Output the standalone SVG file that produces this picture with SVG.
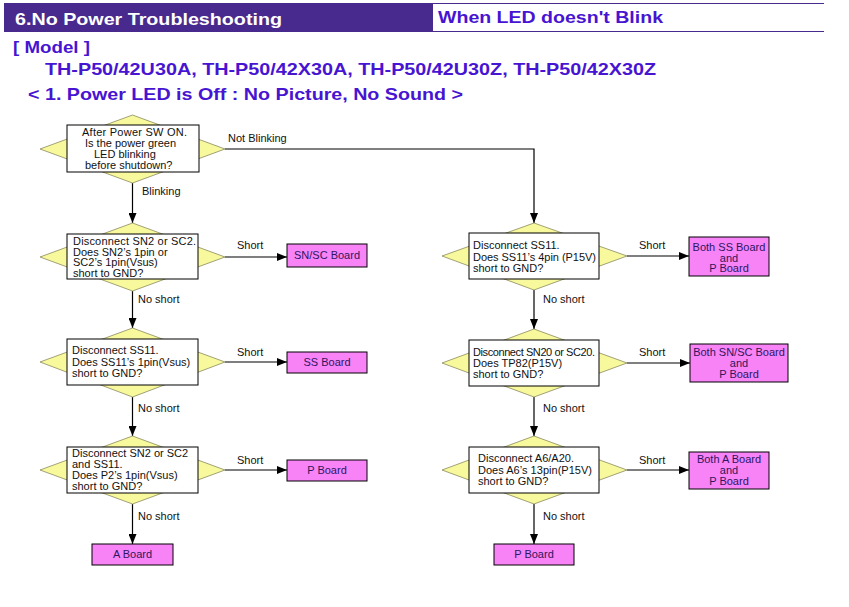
<svg xmlns="http://www.w3.org/2000/svg" width="849" height="607" viewBox="0 0 849 607">
<style>
.hd{font-family:"Liberation Sans",Arial,sans-serif;font-weight:bold;font-size:17px}
.bl{fill:#4714d2}
.t{font-family:"Liberation Sans",Arial,sans-serif;font-size:11px;fill:#111}
.bt{font-family:"Liberation Sans",Arial,sans-serif;font-size:11px;fill:#2e1660;text-anchor:middle}
.dia{fill:#f8f89c;stroke:#8a8a60;stroke-width:0.8}
.q{fill:#fff;stroke:#000;stroke-width:1}
.res{fill:#f783f7;stroke:#000;stroke-width:1}
.ln{fill:none;stroke:#000;stroke-width:1.2}
</style>
<defs>
<marker id="ah" viewBox="0 0 10 8" refX="10" refY="4" markerWidth="10" markerHeight="8" orient="auto" markerUnits="userSpaceOnUse">
<path d="M0,0 L10,4 L0,8 z" fill="#000"/>
</marker>
</defs>
<rect width="849" height="607" fill="#fff"/>
<g id="header">
<rect x="4" y="3" width="429" height="29" fill="#482a8e"/>
<line x1="433" y1="3.5" x2="824" y2="3.5" stroke="#482a8e" stroke-width="1"/>
<line x1="433" y1="31.5" x2="824" y2="31.5" stroke="#482a8e" stroke-width="1.2"/>
<text class="hd" x="15" y="25" fill="#fff" textLength="267" lengthAdjust="spacingAndGlyphs">6.No Power Troubleshooting</text>
<text class="hd bl" x="438" y="23" font-size="18" textLength="225" lengthAdjust="spacingAndGlyphs">When LED doesn't Blink</text>
<text class="hd bl" x="13" y="53" textLength="77" lengthAdjust="spacingAndGlyphs">[ Model ]</text>
<text class="hd bl" x="45" y="75" textLength="611" lengthAdjust="spacingAndGlyphs">TH-P50/42U30A, TH-P50/42X30A, TH-P50/42U30Z, TH-P50/42X30Z</text>
<text class="hd bl" x="28" y="100" textLength="435" lengthAdjust="spacingAndGlyphs">&lt; 1. Power LED is Off : No Picture, No Sound &gt;</text>
</g>
<g id="connectors">
<line class="ln" x1="132.5" y1="183" x2="132.5" y2="223" marker-end="url(#ah)"/>
<polyline class="ln" points="225,149 534,149 534,223" marker-end="url(#ah)"/>
<line class="ln" x1="225" y1="257" x2="287" y2="257" marker-end="url(#ah)"/>
<line class="ln" x1="132.5" y1="291" x2="132.5" y2="328" marker-end="url(#ah)"/>
<line class="ln" x1="225" y1="362" x2="287" y2="362" marker-end="url(#ah)"/>
<line class="ln" x1="132.5" y1="397" x2="132.5" y2="436" marker-end="url(#ah)"/>
<line class="ln" x1="225" y1="470" x2="287" y2="470" marker-end="url(#ah)"/>
<line class="ln" x1="132.5" y1="504" x2="132.5" y2="544" marker-end="url(#ah)"/>
<line class="ln" x1="627" y1="256" x2="689" y2="256" marker-end="url(#ah)"/>
<line class="ln" x1="534" y1="290" x2="534" y2="329" marker-end="url(#ah)"/>
<line class="ln" x1="627" y1="363" x2="690" y2="363" marker-end="url(#ah)"/>
<line class="ln" x1="534" y1="397" x2="534" y2="436" marker-end="url(#ah)"/>
<line class="ln" x1="627" y1="470" x2="689" y2="470" marker-end="url(#ah)"/>
<line class="ln" x1="534" y1="504" x2="534" y2="544" marker-end="url(#ah)"/>
<text class="t" x="228" y="142">Not Blinking</text>
<text class="t" x="142" y="195">Blinking</text>
<text class="t" x="237" y="249">Short</text>
<text class="t" x="138" y="303">No short</text>
<text class="t" x="237" y="356">Short</text>
<text class="t" x="138" y="412">No short</text>
<text class="t" x="237" y="464">Short</text>
<text class="t" x="138" y="520">No short</text>
<text class="t" x="639" y="249">Short</text>
<text class="t" x="543" y="303">No short</text>
<text class="t" x="639" y="356">Short</text>
<text class="t" x="543" y="412">No short</text>
<text class="t" x="639" y="464">Short</text>
<text class="t" x="543" y="520">No short</text>
</g>
<g id="d1">
<polygon class="dia" points="40,149 132.5,115 225,149 132.5,183"/>
<rect class="q" x="67" y="125" width="132" height="47"/>
<text class="t" x="82" y="136" textLength="105">After Power SW ON.</text>
<text class="t" x="85" y="147">Is the power green</text>
<text class="t" x="94" y="158">LED blinking</text>
<text class="t" x="85" y="168.5">before shutdown?</text>
</g>
<g id="d2">
<polygon class="dia" points="40,257 132.5,223 225,257 132.5,291"/>
<rect class="q" x="67" y="234" width="131" height="45"/>
<text class="t" x="73" y="244.5" textLength="123">Disconnect SN2 or SC2.</text>
<text class="t" x="73" y="255.5">Does SN2’s 1pin or</text>
<text class="t" x="73" y="266">SC2’s 1pin(Vsus)</text>
<text class="t" x="73" y="276.5">short to GND?</text>
</g>
<g id="d3">
<polygon class="dia" points="40,362 132.5,328 225,362 132.5,397"/>
<rect class="q" x="67" y="339" width="131" height="46"/>
<text class="t" x="72" y="354">Disconnect SS11.</text>
<text class="t" x="72" y="366">Does SS11’s 1pin(Vsus)</text>
<text class="t" x="72" y="377">short to GND?</text>
</g>
<g id="d4">
<polygon class="dia" points="40,470 132.5,436 225,470 132.5,504"/>
<rect class="q" x="67" y="447" width="131" height="46"/>
<text class="t" x="72" y="457">Disconnect SN2 or SC2</text>
<text class="t" x="72" y="468">and SS11.</text>
<text class="t" x="72" y="479">Does P2’s 1pin(Vsus)</text>
<text class="t" x="72" y="490">short to GND?</text>
</g>
<g id="d5">
<polygon class="dia" points="442,256 534,223 627,256 534,290"/>
<rect class="q" x="469" y="233" width="130" height="46"/>
<text class="t" x="473" y="249">Disconnect SS11.</text>
<text class="t" x="473" y="261" textLength="123">Does SS11’s 4pin (P15V)</text>
<text class="t" x="473" y="272">short to GND?</text>
</g>
<g id="d6">
<polygon class="dia" points="442,363 534,329 627,363 534,397"/>
<rect class="q" x="469" y="340" width="130" height="46"/>
<text class="t" x="473" y="356" textLength="122">Disconnect SN20 or SC20.</text>
<text class="t" x="473" y="367">Does TP82(P15V)</text>
<text class="t" x="473" y="378">short to GND?</text>
</g>
<g id="d7">
<polygon class="dia" points="442,470 534,436 627,470 534,504"/>
<rect class="q" x="469" y="447" width="130" height="46"/>
<text class="t" x="478" y="462">Disconnect A6/A20.</text>
<text class="t" x="478" y="474" textLength="114">Does A6’s 13pin(P15V)</text>
<text class="t" x="478" y="485">short to GND?</text>
</g>
<g id="b-snsc">
<rect class="res" x="287" y="244" width="80" height="23"/>
<text class="bt" x="327" y="259">SN/SC Board</text>
</g>
<g id="b-ss">
<rect class="res" x="287" y="352" width="80" height="21"/>
<text class="bt" x="327" y="366">SS Board</text>
</g>
<g id="b-p1">
<rect class="res" x="287" y="460" width="80" height="21"/>
<text class="bt" x="327" y="474">P Board</text>
</g>
<g id="b-a">
<rect class="res" x="92" y="544" width="81" height="21"/>
<text class="bt" x="132.5" y="558">A Board</text>
</g>
<g id="b-ssp">
<rect class="res" x="689" y="237" width="80" height="39"/>
<text class="bt" x="729" y="251">Both SS Board</text>
<text class="bt" x="729" y="261.5">and</text>
<text class="bt" x="729" y="272">P Board</text>
</g>
<g id="b-snscp">
<rect class="res" x="690" y="344" width="98" height="38"/>
<text class="bt" x="739" y="356">Both SN/SC Board</text>
<text class="bt" x="739" y="367">and</text>
<text class="bt" x="739" y="378">P Board</text>
</g>
<g id="b-ap">
<rect class="res" x="689" y="452" width="80" height="37"/>
<text class="bt" x="729" y="463">Both A Board</text>
<text class="bt" x="729" y="474">and</text>
<text class="bt" x="729" y="485">P Board</text>
</g>
<g id="b-p2">
<rect class="res" x="494" y="544" width="80" height="21"/>
<text class="bt" x="534" y="558">P Board</text>
</g>
</svg>
